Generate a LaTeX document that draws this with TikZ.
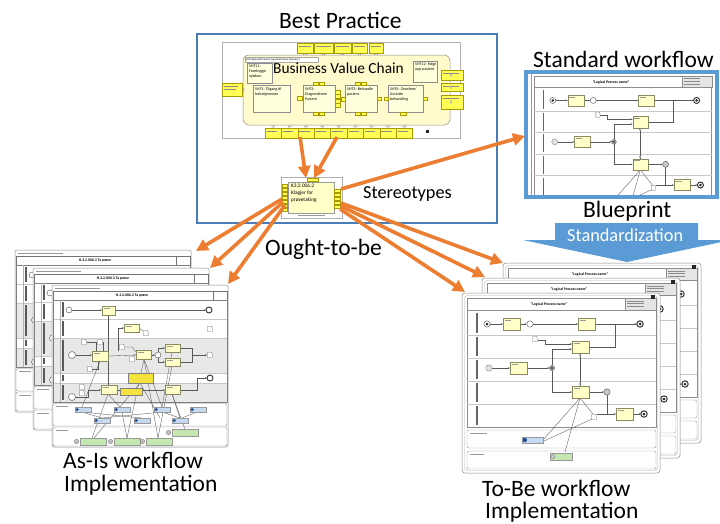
\documentclass[tikz,border=0pt]{standalone}
\usepackage{fontspec}
\setmainfont{Carlito}
\usetikzlibrary{arrows.meta}
\definecolor{orng}{HTML}{ED7D31}
\definecolor{bpblue}{HTML}{4A7EBB}
\definecolor{swblue}{HTML}{5B9BD5}
\definecolor{taskfill}{HTML}{FFFFC8}
\definecolor{taskdraw}{HTML}{8A8A60}
\definecolor{bvcfill}{HTML}{FFFBCC}
\definecolor{portfill}{HTML}{FFFF55}
\definecolor{portdraw}{HTML}{A89A00}
\definecolor{infofill}{HTML}{C5D9F1}
\definecolor{appfill}{HTML}{C4E6B0}
\definecolor{notefill}{HTML}{F4E33C}
\definecolor{iconblue}{HTML}{1F4E9A}
\tikzset{
  biglbl/.style={font=\fontsize{23.5}{26}\selectfont, inner sep=0, anchor=base west},
  midlbl/.style={font=\fontsize{18.3}{20}\selectfont, inner sep=0, anchor=base west},
  oarrow/.style={draw=orng, line width=3.6pt, -{Triangle[length=12pt,width=12pt]}},
  task/.style={draw=taskdraw, fill=taskfill, line width=0.4pt},
  port/.style={draw=portdraw, fill=portfill, line width=0.3pt},
  flow/.style={draw=black!65, line width=0.35pt},
  flowa/.style={flow, -{Stealth[length=2pt,width=1.6pt]}},
  lanel/.style={draw=black!22, line width=0.3pt},
  tinyb/.style={font=\fontsize{3.8}{4.2}\selectfont\bfseries, inner sep=0},
  boxtxt/.style={font=\fontsize{4}{4.8}\selectfont, inner sep=0, anchor=north west, align=left},
  ghost/.style={draw=black!40, line width=0.5pt},
  bvcbox/.style={draw=black!45, fill=taskfill!60, line width=0.4pt},
}
\newcommand\docshape[2]{%
  \draw[black!60, fill=white, line width=0.3pt] (#1-2.2,#2-2.8) -- (#1+1,#2-2.8) -- (#1+2.2,#2-1.6) -- (#1+2.2,#2+2.8) -- (#1-2.2,#2+2.8) -- cycle;}
\newcommand\tsk[4]{%
  \draw[task] (#1,#2) rectangle (#3,#4);
  \draw[black!40, line width=0.25pt] (#1+1.5,#2+2) -- (#1+8,#2+2);}
\newcommand\bpcontent{%
  \draw[black!45, fill=white, line width=0.4pt] (0,0) rectangle (189,129);
  \draw[black!45, line width=0.4pt] (0,12) -- (189,12);
  \draw[black!45, fill=black!10, line width=0.3pt] (158,0) rectangle (189,12);
  \foreach \yy in {2.8,5.6,8.4} \draw[black!45, line width=0.35pt] (160,\yy) -- (177,\yy);
  \node[tinyb] at (82,6.5) {"Logical Process name"};
  \foreach \yy in {37,60,83,106} \draw[lanel] (0,\yy) -- (189,\yy);
  \foreach \ya/\yb in {15/35,39/58,62/81,85/104,108/127} \draw[black!60, line width=1.1pt] (10,\ya) -- (10,\yb);
  \draw[flowa] (23.2,26) -- (36,26);
  \draw[flowa] (53,26) -- (59.8,26);
  \draw[flowa] (66.2,26) -- (111,26);
  \draw[flowa] (128,26) -- (169.8,26);
  \draw[flow] (122,49) -- (148,49) -- (148,26);
  \draw[flowa] (70.5,42) -- (78,42) -- (78,46) -- (105,46);
  \draw[flowa] (25.2,70) -- (43,70);
  \draw[flowa] (60,70) -- (82.4,70);
  \draw[flowa] (85,67.4) -- (85,51) -- (105,51);
  \draw[flowa] (85,72.6) -- (85,94) -- (105,94);
  \draw[flow] (113,55) -- (113,88);
  \draw[flowa] (122,94) -- (136.8,94);
  \draw[flowa] (140,97.2) -- (140,116) -- (149,116);
  \draw[flow] (129.5,116) -- (140,116);
  \draw[flowa] (166,116) -- (173.8,116);
  \draw[flow] (113,100) -- (76,142);
  \draw[flow] (113,100) -- (98,154);
  \draw[flow] (113,100) -- (126,116);
  \draw[flow] (125,121) -- (77,143);
  \draw[black!75, fill=white, line width=0.4pt] (20,26) circle[radius=3.2pt];
  \fill[black!85] (20,26) circle[radius=1.5pt];
  \tsk{36}{20}{53}{32}
  \draw[black!70, fill=white, line width=0.4pt] (63,26) circle[radius=3.2pt];
  \tsk{111}{20}{128}{32}
  \draw[black!80, fill=white, line width=1pt] (173,26) circle[radius=3.2pt];
  \fill[black!85] (173,26) circle[radius=1.5pt];
  \docshape{68}{41}
  \tsk{105}{43}{122}{55}
  \draw[black!45, fill=black!12, line width=0.4pt] (22,70) circle[radius=3.2pt];
  \tsk{43}{64}{60}{76}
  \draw[black!60, fill=black!35, line width=0.4pt] (85,70) circle[radius=2.6pt];
  \fill[black!85] (85,70) circle[radius=1.1pt];
  \tsk{105}{88}{122}{100}
  \draw[black!60, fill=white, line width=0.3pt] (113,57) circle[radius=1pt];
  \draw[black!60, fill=white, line width=0.3pt] (113,86) circle[radius=1pt];
  \draw[black!60, fill=black!22, line width=0.5pt] (140,94) circle[radius=3.2pt];
  \docshape{127}{119}
  \tsk{149}{110}{166}{122}
  \draw[black!80, fill=white, line width=1pt] (177,116) circle[radius=3.2pt];
  \fill[black!85] (177,116) circle[radius=1.5pt];
}
\newcommand\asiscontent{%
  \draw[black!45, fill=white, line width=0.5pt, rounded corners=2pt] (0,0) rectangle (176,162);
  \draw[ghost] (3,3) -- (48,3);
  \draw[black!55, line width=0.4pt] (1,6) rectangle (175,15);
  \draw[black!55, line width=0.4pt] (161,6) -- (161,15);
  \node[tinyb] at (80,10.5) {H.3.2.006.3 Ta prøve};
  \fill[black!9] (1,53) rectangle (175,88);
  \fill[black!9] (1,98) rectangle (175,117);
  \foreach \yy in {34,53,88,98} \draw[lanel] (1,\yy) -- (175,\yy);
  \draw[black!50, line width=0.4pt] (1,15) rectangle (175,117);
  \draw[black!30, line width=0.3pt] (8,15) -- (8,117);
  \foreach \ya/\yb in {17/32,36/51,55/86,90/96,100/115} \draw[black!65, line width=1.1pt] (11,\ya) -- (11,\yb);
  \draw[flowa] (20,25) -- (50,25);
  \draw[flowa] (63,25) -- (154,25);
  \draw[flow] (56,30) -- (56,100);
  \draw[flowa] (66,66) -- (66,43) -- (72,43);
  \draw[flow] (87,43) -- (91,46);
  \draw[flowa] (23.5,70) -- (40,70);
  \draw[flowa] (56,71) -- (84,70);
  \draw[flowa] (99,70) -- (103,70);
  \draw[flowa] (106,67) -- (106,63) -- (113,63);
  \draw[flowa] (106,73) -- (106,77) -- (113,77);
  \draw[flow] (128,63) -- (140,63) -- (140,77) -- (128,77);
  \draw[flowa] (140,70) -- (155,70);
  \draw[flowa] (23,112) -- (36,112) -- (36,105) -- (49,105);
  \draw[flowa] (65,105) -- (113,105);
  \draw[flow] (128,105) -- (145,105) -- (145,93);
  \draw[flowa] (145,93) -- (155,93);
  \draw[flow] (35,57) -- (44,57) -- (44,66);
  \draw[flow] (51,57) -- (51,66);
  \draw[flow] (73,62) -- (80,62) -- (84,67);
  \draw[flow] (40,84) -- (46,84) -- (46,76);
  \draw[flow] (48,76) -- (30,122);
  \draw[flow] (92,74) -- (75,153);
  \draw[flow] (92,74) -- (106,153);
  \draw[flow] (92,74) -- (110,122);
  \draw[flow] (88,98) -- (42,153);
  \draw[flow] (88,98) -- (108,133);
  \draw[flow] (120,67) -- (110,122);
  \draw[flow] (120,81) -- (106,153);
  \draw[flow] (120,109) -- (128,133);
  \draw[flow] (120,109) -- (133,144);
  \draw[flow] (56,109) -- (40,153);
  \draw[flow] (56,109) -- (68,122);
  \draw[flow] (30,127) -- (50,133);
  \draw[flow] (30,127) -- (90,133);
  \draw[flow] (110,127) -- (50,133);
  \draw[flow] (110,127) -- (128,133);
  \draw[flow] (70,127) -- (75,153);
  \draw[flow] (145,127) -- (130,133);
  \draw[black!70, fill=white, line width=0.4pt] (17,25) circle[radius=3pt];
  \tsk{50}{21}{63}{30}
  \draw[black!80, fill=white, line width=0.9pt] (157,25) circle[radius=3pt];
  \tsk{72}{39}{87}{47}
  \docshape{94}{48}\docshape{158}{44}
  \draw[black!70, fill=white, line width=0.4pt] (20,70) circle[radius=3.5pt];
  \docshape{32}{57}\docshape{48}{57}\docshape{70}{62}\docshape{80}{74}\docshape{38}{84}\docshape{158}{70}
  \tsk{40}{66}{56}{76}
  \tsk{84}{65}{99}{74}
  \draw[black!70, fill=white, line width=0.4pt] (106,70) circle[radius=3pt];
  \tsk{113}{59}{128}{67}
  \tsk{113}{73}{128}{81}
  \draw[black!80, fill=white, line width=0.9pt] (158,93) circle[radius=3pt];
  \draw[black!70, fill=white, line width=0.4pt] (20,112) circle[radius=3.5pt];
  \docshape{30}{102}\docshape{30}{108}
  \tsk{49}{100}{65}{109}
  \tsk{113}{100}{128}{109}
  \draw[black!50, fill=notefill, line width=0.3pt] (76,88) rectangle (101,98);
  \draw[black!50, fill=notefill, line width=0.3pt] (68,103) rectangle (90,110);
  \draw[black!45, line width=0.4pt, rounded corners=2pt] (1,118.5) rectangle (175,141);
  \draw[black!45, line width=0.4pt, rounded corners=2pt] (1,142) rectangle (175,161);
  \draw[ghost] (4,121) -- (16,121);
  \draw[ghost] (4,145) -- (16,145);
  \foreach \xa/\ya in {23/122,62/122,102/122,138/122,42/133,82/133,120/133}{
     \draw[black!40, fill=infofill, line width=0.3pt] (\xa,\ya) rectangle (\xa+16,\ya+5);
     \fill[iconblue] (\xa+2.2,\ya+2.5) circle[radius=1.7pt];
  }
  \foreach \xa/\ya in {120/144,28/153,62/153,94/153}{
     \draw[black!40, fill=appfill, line width=0.3pt] (\xa,\ya) rectangle (\xa+26,\ya+7);
     \draw[black!55, fill=black!25, line width=0.3pt] (\xa-3.5,\ya+3.5) circle[radius=2.2pt];
  }
}
\newcommand\tobecontent{%
  \draw[black!45, fill=white, line width=0.5pt, rounded corners=3pt] (0,0) rectangle (198,180);
  \draw[black!30, line width=0.4pt, rounded corners=3pt] (2.5,2.5) rectangle (195.5,177.5);
  \draw[black!40, line width=0.4pt, rounded corners=2pt] (5,137) rectangle (194,155);
  \draw[black!40, line width=0.4pt, rounded corners=2pt] (5,158) rectangle (194,176);
  \draw[ghost] (8,140) -- (25,140);
  \draw[ghost] (8,161) -- (22,161);
  \begin{scope}[shift={(5,5)}]\bpcontent\end{scope}
  \fill[black!85] (189,2) rectangle (192.5,5.5);
  \draw[black!40, fill=infofill, line width=0.3pt] (60,144) rectangle (81,150);
  \fill[iconblue] (62.8,147) circle[radius=2.2pt];
  \draw[black!40, fill=appfill, line width=0.3pt] (88,160) rectangle (110,167);
  \draw[black!55, fill=black!20, line width=0.3pt] (91,163.5) circle[radius=2pt];
}
\begin{document}
\begin{tikzpicture}[x=1pt,y=-1pt]
\useasboundingbox (0,0) rectangle (720,523);
\clip (0,0) rectangle (720,523);
\fill[white] (0,0) rectangle (720,523);

% ---------- Best practice ----------
\node[biglbl] (bptitle) at (279,28) {Best Practice};
\draw[bpblue, line width=2pt] (197,34) rectangle (497,223);
\draw[black!30, fill=white, line width=0.4pt] (222,42) rectangle (460,138);
\foreach \xa/\xb in {297/313,314/333,334/351,352/367,369/383}{
  \draw[port] (\xa,43) rectangle (\xb,53);
  \draw[black!45, line width=0.3pt] (\xa+1.5,46) -- (\xb-2,46);
  \draw[black!50, fill=white, line width=0.25pt] ({(\xa+\xb)/2},54.5) ellipse[x radius=1.6pt, y radius=1pt];
}
\draw[black!45, fill=bvcfill, line width=0.5pt, rounded corners=6pt] (243,55) rectangle (450,125);
\draw[black!35, fill=white, line width=0.3pt] (245,57) rectangle (318,62);
\node[font=\fontsize{2.6}{3}\selectfont, inner sep=0, anchor=west] (sht5) at (246,59.5) {SHT5 Behandle Pasient (Spesialist/Helse Tjenester)};
\node[font=\fontsize{15.4}{17}\selectfont, inner sep=0, anchor=base west] (bvc) at (273,73.5) {Business Value Chain};
\draw[bvcbox] (247,63) rectangle (272,83);
\node[boxtxt] (sht11) at (249,65) {SHT11:\\Forebygge\\sykdom};
\draw[bvcbox] (413,61) rectangle (437,82);
\node[boxtxt] (sht12) at (415,63) {SHT12: Følge\\opp pasient};
\draw[bvcbox] (253,85) rectangle (290,112);
\node[boxtxt] (sht1) at (255,88) {SHT1: Tilgang til\\helsetjenester};
\draw[bvcbox] (303,85) rectangle (335,112);
\node[boxtxt] (sht2) at (305,88) {SHT2:\\Diagnostisere\\Pasient};
\draw[bvcbox] (345,85) rectangle (377,112);
\node[boxtxt] (sht3) at (347,88) {SHT3: Behandle\\pasient};
\draw[bvcbox] (388,85) rectangle (423,112);
\node[boxtxt] (sht4) at (390,88) {SHT4: Overføre/\\Avslutte\\behandling};
\draw[port] (297,96) rectangle (302,100);
\foreach \yy in {90,94.5,99,103.5} \draw[port] (335.5,\yy) rectangle (340.5,\yy+4);
\draw[port] (341,97) rectangle (345,101);
\draw[port] (377.5,97) rectangle (381.5,100);
\draw[port] (384,97) rectangle (388,100);
\draw[port] (423.5,97) rectangle (427.5,100);
\foreach \xa in {313,319,355,361}{
  \draw[port] (\xa,82) rectangle (\xa+5,85);
  \draw[port] (\xa,112) rectangle (\xa+5,115);
}
\draw[port] (400,112) rectangle (406,115);
\draw[port] (222,83) rectangle (242,96);
\draw[black!45, line width=0.3pt] (224,86) -- (238,86);
\draw[black!45, line width=0.3pt] (224,89) -- (236,89);
\draw[black!50, fill=white, line width=0.25pt] (243.5,89.5) ellipse[x radius=1pt, y radius=1.6pt];
\foreach \ya/\yb in {70/80,83/91,95/109}{
  \draw[port] (441,\ya) rectangle (463,\yb);
  \draw[black!45, line width=0.3pt] (443,\ya+3) -- (459,\ya+3);
  \draw[black!50, fill=white, line width=0.25pt] (451,{(\ya+\yb)/2}) ellipse[x radius=1pt, y radius=1.6pt];
}
\foreach \i in {0,...,8}{
  \pgfmathsetmacro\xa{265+16.4*\i}
  \draw[port] (\xa,128) rectangle (\xa+16.4,138);
  \draw[black!45, line width=0.3pt] (\xa+1.5,131) -- (\xa+12,131);
  \draw[black!50, fill=white, line width=0.25pt] (\xa+8.2,126.5) ellipse[x radius=1.6pt, y radius=1pt];
}
\fill[black!85] (426,130) rectangle (429,133);

% stereotype
\node[draw=black!30, fill=white, line width=0.4pt, minimum width=61pt, minimum height=41pt, inner sep=0, anchor=north west] (st) at (281,177) {};
\draw[black!40, fill=taskfill, line width=0.4pt] (288,182) rectangle (334,213);
\node[boxtxt, font=\fontsize{5.3}{7}\selectfont] (k3) at (291,184) {K3.2.006.2\\Klagjer for\\prøvetaking};
\foreach \yy in {184,188,...,208} \draw[port] (282,\yy) rectangle (287.5,\yy+3.2);
\foreach \yy in {189,193,...,205} \draw[port] (334.5,\yy) rectangle (340.5,\yy+3.2);
\draw[port] (307,178) rectangle (318,181.5);
\draw[black!40, line width=0.4pt] (298,215.5) -- (325,215.5);
\node[midlbl] (stereo) at (363,198) {Stereotypes};

% ---------- Standard workflow ----------
\node[biglbl] (swtitle) at (533,67) {Standard workflow};
\begin{scope}
  \clip (527,73) rectangle (716,196);
  \fill[white] (527,73) rectangle (716,196);
  \draw[black!40, line width=0.5pt] (531,73) -- (531,196);
  \begin{scope}[shift={(534,76)}, scale=0.94]\bpcontent\end{scope}
\end{scope}
\draw[swblue, line width=3.5pt] (526,72) rectangle (717,197);
\node[biglbl] (bplbl) at (583,217) {Blueprint};
\fill[swblue] (555,223) -- (698,223) -- (698,240) -- (731,240) -- (627,262) -- (523,240) -- (555,240) -- cycle;
\node[midlbl, text=white] (stdz) at (567,241) {Standardization};

\node[biglbl] (ought) at (265,255) {Ought-to-be};

% ---------- As-Is sheets ----------
\begin{scope}[shift={(15,250)}]\asiscontent\end{scope}
\begin{scope}[shift={(33,268)}]\asiscontent\end{scope}
\begin{scope}[shift={(52,285)}]\asiscontent\end{scope}
\node[biglbl] (asis1) at (63,468) {As-Is workflow};
\node[biglbl] (asis2) at (64,491) {Implementation};

% ---------- To-Be sheets ----------
\begin{scope}[shift={(503,263)}]\tobecontent\end{scope}
\begin{scope}[shift={(482,278)}]\tobecontent\end{scope}
\begin{scope}[shift={(462,293)}]\tobecontent\end{scope}
\node[biglbl] (tobe1) at (482,496) {To-Be workflow};
\node[biglbl] (tobe2) at (485,518) {Implementation};

% ---------- orange arrows ----------
\coordinate (b1) at (300,137);
\coordinate (b2) at (337,137);
\coordinate (s1) at (306,178);
\coordinate (s2) at (314,178);
\coordinate (sr0) at (341,189);
\coordinate (swin) at (525,136);
\coordinate (sl1) at (282,199);
\coordinate (sl2) at (283,202);
\coordinate (sl3) at (285,205);
\coordinate (a1) at (196,251);
\coordinate (a2) at (210,268);
\coordinate (a3) at (228,284);
\coordinate (sr1) at (341,203);
\coordinate (sr2) at (341,206);
\coordinate (sr3) at (340,209);
\coordinate (t1) at (503,263);
\coordinate (t2) at (485,277);
\coordinate (t3) at (465,292);
\draw[oarrow] (b1) -- (s1);
\draw[oarrow] (b2) -- (s2);
\draw[oarrow] (sr0) -- (swin);
\draw[oarrow] (sl1) -- (a1);
\draw[oarrow] (sl2) -- (a2);
\draw[oarrow] (sl3) -- (a3);
\draw[oarrow] (sr1) -- (t1);
\draw[oarrow] (sr2) -- (t2);
\draw[oarrow] (sr3) -- (t3);
\end{tikzpicture}
\end{document}
